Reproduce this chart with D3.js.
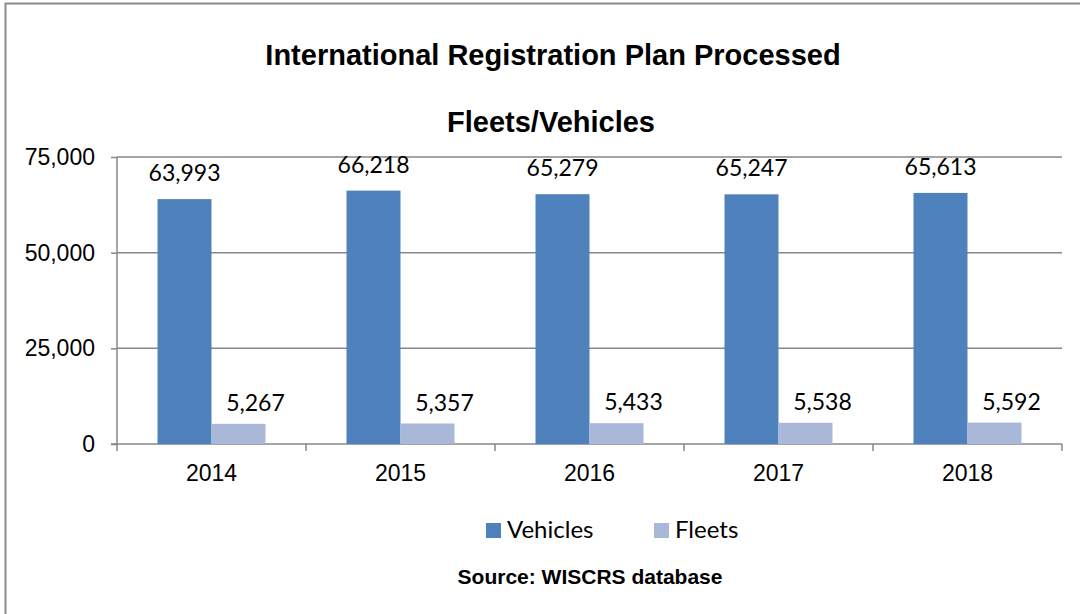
<!DOCTYPE html>
<html>
<head>
<meta charset="utf-8">
<script src="https://cdn.jsdelivr.net/npm/d3@7"></script>
<style>
  body { margin: 0; background: #fff; }
  #chart { width: 1080px; height: 614px; }
</style>
</head>
<body>
<div id="chart"></div>
<script>
// chart data
const years = ["2014", "2015", "2016", "2017", "2018"];
const vehicles = [63993, 66218, 65279, 65247, 65613];
const fleets = [5267, 5357, 5433, 5538, 5592];
const yTicks = [0, 25000, 50000, 75000];
const seriesNames = ["Vehicles", "Fleets"];
const seriesColors = ["#4f81bd", "#a9b8d8"];

const width = 1080;
const height = 614;
const marginLeft = 117;
const marginRight = 18;
const marginTop = 157;
const plotBottom = 444;

// label nudges per series (fleet labels sit a bit to the right)
const labelDx = [0, 17];
const labelDy = [-18, -13];

const svg = d3.select("#chart")
  .append("svg")
  .attr("width", width)
  .attr("height", height);

// outer frame (only left and top edges show in the picture)
svg.append("path")
  .attr("d", `M5.5,${height}V3.5H${width}`)
  .attr("fill", "none")
  .attr("stroke", "#8c8c8c")
  .attr("stroke-width", 2);

// title
svg.append("text")
  .attr("x", 553).attr("y", 65)
  .attr("text-anchor", "middle")
  .style("font-family", "Liberation Sans, Arial, sans-serif")
  .style("font-weight", "bold")
  .style("font-size", "29px")
  .text("International Registration Plan Processed");

svg.append("text")
  .attr("x", 551).attr("y", 132)
  .attr("text-anchor", "middle")
  .style("font-family", "Liberation Sans, Arial, sans-serif")
  .style("font-weight", "bold")
  .style("font-size", "29px")
  .text("Fleets/Vehicles");

// scales
const xScale = d3.scaleBand()
  .domain(years)
  .range([marginLeft, width - marginRight]);

const xInner = d3.scaleBand()
  .domain(seriesNames)
  .range([0, 108]);

const yScale = d3.scaleLinear()
  .domain([0, 75000])
  .range([plotBottom, marginTop]);

// gridlines
svg.append("g")
  .selectAll("line")
  .data(yTicks.slice(1))
  .join("line")
  .attr("x1", marginLeft)
  .attr("x2", width - marginRight)
  .attr("y1", (d) => yScale(d))
  .attr("y2", (d) => yScale(d))
  .attr("stroke", "#878787")
  .attr("stroke-width", 1.5);

// y axis
const yaxis = d3.axisLeft(yScale)
  .tickValues(yTicks)
  .tickSize(6)
  .tickPadding(16)
  .tickFormat(d3.format(","));

const gy = svg.append("g")
  .attr("transform", `translate(${marginLeft},0)`)
  .call(yaxis);
gy.select(".domain").attr("stroke", "#878787").attr("stroke-width", 1.5)
  .attr("d", `M0,${marginTop}V${plotBottom}`);
gy.selectAll(".tick line").attr("stroke", "#878787").attr("stroke-width", 1.5);
gy.selectAll("text")
  .style("font-family", "Liberation Sans, Arial, sans-serif")
  .style("font-size", "23px")
  .attr("fill", "#000");

// x axis
const gx = svg.append("g")
  .attr("transform", `translate(0,${plotBottom})`);
gx.append("line")
  .attr("x1", marginLeft - 6).attr("x2", width - marginRight)
  .attr("stroke", "#878787").attr("stroke-width", 1.5);
gx.selectAll(".tk")
  .data(years.concat(["end"]))
  .join("line")
  .attr("class", "tk")
  .attr("x1", (d, i) => i < years.length ? xScale(d) : width - marginRight)
  .attr("x2", (d, i) => i < years.length ? xScale(d) : width - marginRight)
  .attr("y1", 0).attr("y2", 7)
  .attr("stroke", "#878787").attr("stroke-width", 1.5);
gx.selectAll(".lbl")
  .data(years)
  .join("text")
  .attr("class", "lbl")
  .attr("x", (d) => xScale(d) + xScale.bandwidth() / 2)
  .attr("y", 37)
  .attr("text-anchor", "middle")
  .style("font-family", "Liberation Sans, Arial, sans-serif")
  .style("font-size", "23px")
  .text((d) => d);

// bars
const rows = years.map((y, i) => ({ year: y, values: [vehicles[i], fleets[i]] }));

const groups = svg.append("g")
  .selectAll("g")
  .data(rows)
  .join("g")
  .attr("transform", (d) => `translate(${xScale(d.year) + (xScale.bandwidth() - 108) / 2},0)`);

groups.selectAll("rect")
  .data((d) => d.values.map((v, j) => ({ name: seriesNames[j], value: v, color: seriesColors[j] })))
  .join("rect")
  .attr("x", (d) => xInner(d.name))
  .attr("width", xInner.bandwidth())
  .attr("y", (d) => yScale(d.value))
  .attr("height", (d) => plotBottom - yScale(d.value))
  .attr("fill", (d) => d.color);

groups.selectAll("text")
  .data((d) => d.values.map((v, j) => ({ name: seriesNames[j], value: v, j: j })))
  .join("text")
  .attr("x", (d) => xInner(d.name) + xInner.bandwidth() / 2 + labelDx[d.j])
  .attr("y", (d) => yScale(d.value) + labelDy[d.j])
  .attr("text-anchor", "middle")
  .style("font-family", "Lato, 'Open Sans', sans-serif")
  .style("font-size", "23px")
  .text((d) => d3.format(",")(d.value));

// legend
const legend = svg.append("g");
const legendX = [486, 654];
seriesNames.forEach((name, i) => {
  legend.append("rect")
    .attr("x", legendX[i]).attr("y", 523)
    .attr("width", 15).attr("height", 15)
    .attr("fill", seriesColors[i]);
  legend.append("text")
    .attr("x", legendX[i] + 21).attr("y", 538)
    .style("font-family", "Lato, 'Open Sans', sans-serif")
    .style("font-size", "24px")
    .text(name);
});

// source note
svg.append("text")
  .attr("x", 590).attr("y", 584)
  .attr("text-anchor", "middle")
  .style("font-family", "Liberation Sans, Arial, sans-serif")
  .style("font-weight", "bold")
  .style("font-size", "21px")
  .text("Source: WISCRS database");
</script>
</body>
</html>
